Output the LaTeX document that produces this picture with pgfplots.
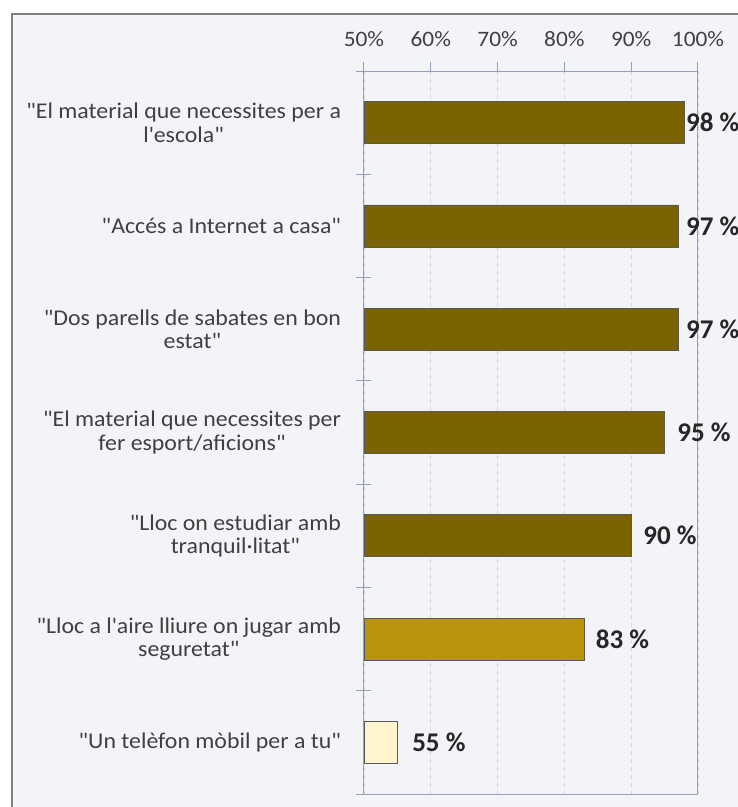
\documentclass[border=0pt]{standalone}
\usepackage{pgfplots}
\pgfplotsset{compat=1.18}
\usepackage{fontspec}
\setmainfont{Carlito}
\newfontfamily\stretchfont{Carlito}[FakeStretch=1.06]
\definecolor{bgin}{RGB}{243,244,247}
\definecolor{framec}{RGB}{128,128,128}
\definecolor{axisc}{RGB}{150,160,185}
\definecolor{gridc}{RGB}{212,214,220}
\definecolor{textc}{RGB}{64,64,64}
\definecolor{valc}{RGB}{38,38,38}
\definecolor{bardark}{RGB}{122,99,0}
\definecolor{barmid}{RGB}{186,148,10}
\definecolor{barlight}{RGB}{255,244,206}
\definecolor{bord}{RGB}{89,89,89}
\begin{document}
\begin{tikzpicture}
\clip (-364pt,-13pt) rectangle (374pt,794pt);
\fill[white] (-364pt,-13pt) rectangle (374pt,794pt);
\filldraw[fill=bgin, draw=framec, line width=2pt] (-352pt,-40pt) rectangle (400pt,780pt);
\begin{axis}[
  at={(0,0)}, anchor=south west,
  width=334pt, height=723pt, scale only axis,
  xmin=50, xmax=100,
  ymin=-0.5, ymax=6.5, y dir=reverse,
  xtick={50,60,...,100},
  xticklabel={\pgfmathprintnumber{\tick}\%},
  /pgf/number format/assume math mode=true,
  xtick pos=right, xticklabel pos=right,
  xtick align=outside,
  major tick length=9pt,
  xmajorgrids,
  grid style={dash pattern=on 4pt off 4pt, color=gridc, line width=0.8pt},
  ytick={0,...,6},
  yticklabels={
    {"El material que necessites per a\\l\textquotesingle escola"},
    {"Accés a Internet a casa"},
    {"Dos parells de sabates en bon\\estat"},
    {"El material que necessites per\\fer esport/aficions"},
    {"Lloc on estudiar amb\\tranquil·litat"},
    {"Lloc a l\textquotesingle aire lliure on jugar amb\\seguretat"},
    {"Un telèfon mòbil per a tu"}},
  ytick pos=left,
  major y tick style={draw=none},
  minor ytick={-0.5,0.5,...,6.5},
  minor tick length=15pt,
  ytick align=center,
  axis line style={draw=axisc, line width=1pt},
  tick style={draw=axisc, line width=1pt},
  xticklabel style={font=\stretchfont\fontsize{22}{24}\selectfont, text=textc, yshift=12pt},
  yticklabel style={font=\stretchfont\fontsize{22.5}{23.5}\selectfont, text=textc, align=center, xshift=-15pt},
  every node near coord/.append style={anchor=west, inner sep=0pt, font=\bfseries\fontsize{27}{30}\selectfont, text=valc},
]
\addplot[xbar, bar width=42pt, bar shift=0pt, fill=bardark, draw=bord, line width=0.8pt] coordinates {(98,0) (97,1) (97,2) (95,3) (90,4)};
\addplot[xbar, bar width=42pt, bar shift=0pt, fill=barmid, draw=bord, line width=0.8pt] coordinates {(83,5)};
\addplot[xbar, bar width=42pt, bar shift=0pt, fill=barlight, draw=bord, line width=0.8pt] coordinates {(55,6)};
\addplot[draw=none, mark=none, nodes near coords, point meta=explicit symbolic] coordinates {
  (98.2,0) [98 \%]
  (98.2,1) [97 \%]
  (98.2,2) [97 \%]
  (96.9,3) [95 \%]
  (91.8,4) [90 \%]
  (84.7,5) [83 \%]
  (57.2,6) [55 \%]
};
\end{axis}
\end{tikzpicture}
\end{document}
